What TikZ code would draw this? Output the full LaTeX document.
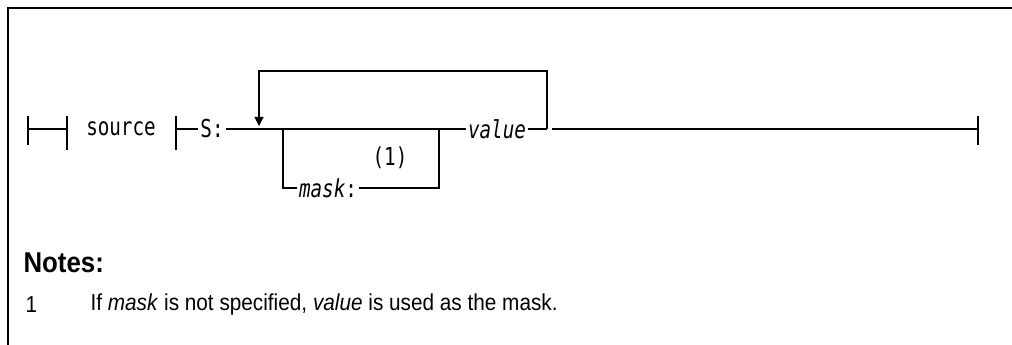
\documentclass[tikz,border=0pt]{standalone}
\usepackage{fontspec}
\setmainfont[FakeStretch=0.9]{Liberation Sans}
\newfontfamily\railfont[FakeStretch=0.78]{DejaVu Sans Mono}
\usetikzlibrary{arrows.meta}

\begin{document}
\begin{tikzpicture}[x=0.75pt,y=-0.75pt,line width=0.9pt,
  term/.style={inner sep=1pt,font=\railfont\fontsize{18.5}{20}\selectfont},
  note/.style={anchor=west,inner sep=0pt,font=\fontsize{17.3}{20}\selectfont}]
\useasboundingbox (0,0) rectangle (1012,345);
\draw (8,345)--(8,8)--(1012,8);
% rail ends and points on the main line
\foreach \x/\a/\b in {28/116/145,67/116/150,176/116/150,978/116/145}{\draw (\x,\a)--(\x,\b);}
\coordinate (b0) at (28,129);\coordinate (b1) at (67,129);\coordinate (b2) at (176,129);
\coordinate (br) at (283,129);\coordinate (jo) at (439,129);\coordinate (jn) at (547,129);
\coordinate (gap) at (552,129);\coordinate (fin) at (978,129);\coordinate (arr) at (259,126);
% items
\node[term] (src) at (121,129) {source};
\node[term] (s) at (212,129) {S:};
\node[term] (mask) at (328,188) {\itshape mask\upshape:};
\node[term] (fn) at (390,158) {(1)};
\node[term,font=\railfont\itshape\fontsize{18.5}{20}\selectfont] (val) at (497,129) {value};
% connectors
\draw (b0)--(b1);
\draw (b2)--(s);
\draw (s)--(val);
\draw (br)|-(mask);
\draw (mask)-|(jo);
\draw (val)--(jn);
\draw[-{Triangle[width=6.75pt,length=6.75pt]}] (jn)--(547,71)-|(arr);
\draw (gap)--(fin);
% notes
\node[note,font=\bfseries\fontsize{21.5}{24}\selectfont] (notes) at (23,263) {Notes:};
\node[note] (n1) at (25,305) {1};
\node[note] (n1txt) at (90,305) {If \textit{mask} is not specified, \textit{value} is used as the mask.};
\end{tikzpicture}
\end{document}
